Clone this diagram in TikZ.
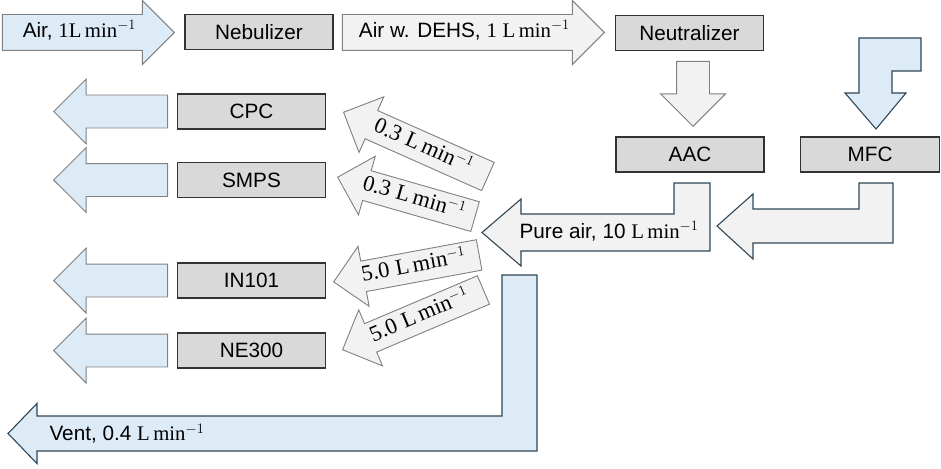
\documentclass[tikz,border=0pt]{standalone}
\usepackage[no-math]{fontspec}
\setmainfont{Liberation Sans}
\newfontfamily\unitfont{Liberation Serif}
\usetikzlibrary{shapes.arrows}
\definecolor{airblue}{RGB}{221,235,247}
\definecolor{boxgray}{RGB}{217,217,217}
\definecolor{pipegray}{RGB}{242,242,242}
\definecolor{rimgray}{RGB}{128,128,128}
\definecolor{rimdark}{RGB}{46,70,86}
\newcommand\lpm{{\unitfont L\,min$^{-1}$}}

\begin{document}
\begin{tikzpicture}[x=1pt, y=-1pt, font=\huge,
    instrument/.style={draw=black!80, line width=1.1pt, fill=boxgray, minimum width=148pt, minimum height=35pt, inner sep=0pt},
    flow/.style={single arrow, draw=rimgray, line width=0.9pt, anchor=tip, text height=15pt, text depth=5pt, inner ysep=7.5pt, inner xsep=4pt, single arrow head extend=14pt},
    outflow/.style={flow, fill=airblue, shape border rotate=180, minimum height=114pt, inner ysep=6pt, single arrow head extend=16pt},
    tiltflow/.style={flow, fill=pipegray, shape border rotate=180, inner ysep=5pt, single arrow head extend=15pt, font=\fontsize{22.5}{26}\selectfont},
    bentflow/.style={draw=rimdark, line width=1.1pt}]
    \useasboundingbox (0,0) rectangle (941,468);

    % instruments
    \node[instrument] (neb) at (259,32) {Nebulizer};
    \node[instrument] (neut) at (689.5,33) {Neutralizer};
    \node[instrument] (aac) at (690,154.5) {AAC};
    \node[instrument, minimum width=139pt] (mfc) at (870,154.5) {MFC};
    \node[instrument] (cpc) at (251.5,111.5) {CPC};
    \node[instrument] (smps) at (251.5,180) {SMPS};
    \node[instrument] (in101) at (251.5,280.5) {IN101};
    \node[instrument] (ne300) at (251.5,350.5) {NE300};

    % straight flows
    \node[flow, fill=airblue, minimum height=172pt] (airin) at (175,32.5) {Air, {\unitfont 1}\lpm};
    \node[flow, fill=pipegray, minimum height=262pt] (dehs) at (605,32.5) {Air w. DEHS, {\unitfont 1} \lpm};
    \node[flow, fill=pipegray, rotate=-90, minimum height=65pt, inner ysep=6pt, single arrow head extend=16pt] (todac) at (693,127) {};
    \node[outflow] (cpcout) at (53,111.5) {};
    \node[outflow] (smpsout) at (53,180) {};
    \node[outflow] (in101out) at (53,280.5) {};
    \node[outflow] (ne300out) at (53,350.5) {};

    % sample flows
    \node[tiltflow, rotate=-24, minimum height=158pt] (tocpc) at (343,112) {{\unitfont 0.3} \lpm};
    \node[tiltflow, rotate=-16, minimum height=143pt] (tosmps) at (337,177) {{\unitfont 0.3} \lpm};
    \node[tiltflow, rotate=10.5, minimum height=148pt] (toin101) at (333,282) {{\unitfont 5.0} \lpm};
    \node[tiltflow, rotate=23, minimum height=153pt] (tone300) at (342,350) {{\unitfont 5.0} \lpm};

    % bent flows
    \draw[bentflow, fill=airblue] (859,38) -- (921,38) -- (921,71) -- (892,71) -- (892,93) -- (906,93) -- (876,129) -- (845,93) -- (859,93) -- cycle;
    \draw[bentflow, fill=pipegray] (893,183) -- (893,243) -- (753,243) -- (753,259) -- (717,226) -- (753,194) -- (753,209) -- (859,209) -- (859,183) -- cycle;
    \draw[bentflow, fill=pipegray] (710,183) -- (710,251) -- (521,251) -- (521,266) -- (482,232.5) -- (521,199) -- (521,214) -- (674,214) -- (674,183) -- cycle;
    \node (pure) at (609,231) {Pure air, 10 \lpm};
    \draw[bentflow, fill=airblue] (537,275) -- (537,451) -- (37,451) -- (37,463.5) -- (8,433.5) -- (37,403.5) -- (37,416) -- (502,416) -- (502,275) -- cycle;
    \node[anchor=west] (vent) at (46,433.5) {Vent, 0.4 \lpm};
\end{tikzpicture}
\end{document}
